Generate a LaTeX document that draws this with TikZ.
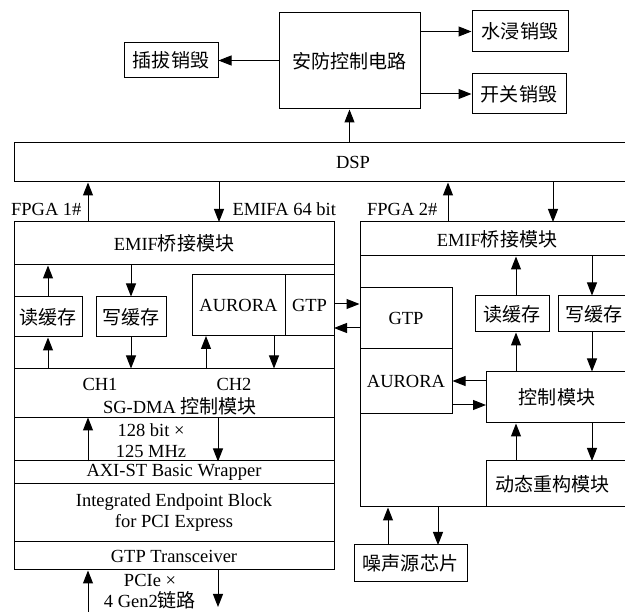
\documentclass[tikz,border=0pt]{standalone}
\usepackage{fontspec}
\setmainfont{Liberation Serif}
\newfontfamily\cjk[Scale=1.03]{Noto Sans CJK SC}
\usetikzlibrary{arrows.meta}

\begin{document}
\begin{tikzpicture}[x=1pt, y=-1pt, line width=1pt,
  font=\fontsize{18.5}{21}\selectfont,
  box/.style={draw, inner sep=2pt, align=center},
  txt/.style={inner sep=2pt, align=center},
  arr/.style={-{Triangle[length=13pt,width=10pt]}}]
\useasboundingbox (0,0) rectangle (625,612);
% security circuit
\node[box, minimum width=141pt, minimum height=96pt] (anfang) at (349.5,61) {\cjk 安防控制电路};
\node[box, minimum width=94pt, minimum height=35pt] (chaba) at (171,60.5) {\cjk 插拔销毁};
\node[box, minimum width=96pt, minimum height=41pt] (shuijin) at (520,31.5) {\cjk 水浸销毁};
\node[box, minimum width=94pt, minimum height=40pt] (kaiguan) at (519,94) {\cjk 开关销毁};
\node[box, minimum width=678pt, minimum height=39pt] (dsp) at (353,162.5) {DSP};
\draw[arr] (dsp.north -| anfang.south) -- (anfang.south);
\draw[arr] (chaba.east -| anfang.west) -- (chaba.east);
\draw[arr] (shuijin.west -| anfang.east) -- (shuijin.west);
\draw[arr] (kaiguan.west -| anfang.east) -- (kaiguan.west);

% FPGA 1
\node[box, minimum width=320pt, minimum height=348pt] (fpgaA) at (174,396) {};
\node[box, minimum width=320pt, minimum height=43pt] (emifA) at (174,243.5) {EMIF{\cjk 桥接模块}};
\node[box, minimum width=68pt, minimum height=40pt] (rdA) at (48,317) {\cjk 读缓存};
\node[box, minimum width=70pt, minimum height=40pt] (wrA) at (131,317) {\cjk 写缓存};
\node[box, minimum width=93pt, minimum height=61pt] (aurA) at (238.5,305.5) {AURORA};
\node[box, minimum width=49pt, minimum height=61pt] (gtpA) at (309.5,305.5) {GTP};
\node[box, minimum width=320pt, minimum height=49pt] (sgdma) at (174,393.5) {};
\node[txt] (ch1) at (100,384) {CH1};
\node[txt] (ch2) at (234,384) {CH2};
\node[txt] (sgtxt) at (180,406) {SG-DMA {\cjk 控制模块}};
\node[box, minimum width=320pt, minimum height=43pt] (wide128) at (174,439.5) {};
\node[txt] (w128) at (151,441) {128 bit ×\\125 MHz};
\node[box, minimum width=320pt, minimum height=23pt] (axi) at (174,472.5) {AXI-ST Basic Wrapper};
\node[box, minimum width=320pt, minimum height=58pt] (iep) at (174,513) {Integrated Endpoint Block\\for PCI Express};
\node[box, minimum width=320pt, minimum height=28pt] (gtpx) at (174,556) {GTP Transceiver};
\node[txt] (pcie) at (150,591.5) {PCIe ×\\4 Gen2{\cjk 链路}};
\node[txt, anchor=east] (lblA) at (84,209) {FPGA 1\#};
\node[txt, anchor=west] (lblEmifa) at (230,209) {EMIFA 64 bit};

\coordinate (upA) at (88,222);
\coordinate (dnA) at (219,222);
\coordinate (aurAup) at (206,336);
\coordinate (aurAdn) at (274,336);
\coordinate (pcieIn) at (88,612);
\coordinate (pcieOut) at (218,607);
\draw[arr] (upA) -- (upA |- dsp.south);
\draw[arr] (dnA |- dsp.south) -- (dnA);
\draw[arr] (rdA.north) -- (rdA.north |- emifA.south);
\draw[arr] (rdA.south |- sgdma.north) -- (rdA.south);
\draw[arr] (wrA.north |- emifA.south) -- (wrA.north);
\draw[arr] (wrA.south) -- (wrA.south |- sgdma.north);
\draw[arr] (aurAup |- sgdma.north) -- (aurAup);
\draw[arr] (aurAdn) -- (aurAdn |- sgdma.north);
\draw[arr] (upA |- wide128.south) -- (upA |- wide128.north);
\draw[arr] (pcieOut |- wide128.north) -- (pcieOut |- wide128.south);
\draw[arr] (pcieIn) -- (pcieIn |- gtpx.south);
\draw[arr] (pcieOut |- gtpx.south) -- (pcieOut);

% FPGA 2
\node[box, minimum width=274pt, minimum height=285pt] (fpgaB) at (497,364.5) {};
\node[box, minimum width=274pt, minimum height=34pt] (emifB) at (497,239) {EMIF{\cjk 桥接模块}};
\node[box, minimum width=92pt, minimum height=61pt] (gtpB) at (406,318.5) {GTP};
\node[box, minimum width=92pt, minimum height=65pt] (aurB) at (406,381.5) {AURORA};
\node[box, minimum width=74pt, minimum height=36pt] (rdB) at (512,314) {\cjk 读缓存};
\node[box, minimum width=72pt, minimum height=36pt] (wrB) at (594,314) {\cjk 写缓存};
\node[box, minimum width=142pt, minimum height=51pt] (ctrl) at (557,397.5) {\cjk 控制模块};
\node[box, minimum width=154pt, minimum height=46pt, text width=136pt, align=left] (dyn) at (563,484) {\cjk 动态重构模块};
\node[box, minimum width=113pt, minimum height=37pt] (noise) at (410.5,563.5) {\cjk 噪声源芯片};
\node[txt, anchor=east] (lblB) at (440,209) {FPGA 2\#};

\coordinate (upB) at (448,222);
\coordinate (dnB) at (553,222);
\coordinate (lnkAB) at (334,304);
\coordinate (lnkBA) at (334,328);
\coordinate (ctlOut) at (486,381);
\coordinate (ctlIn) at (486,405);
\coordinate (dynUp) at (516,461);
\coordinate (dynDn) at (592,461);
\coordinate (nzUp) at (388,545);
\coordinate (nzDn) at (438,545);
\draw[arr] (upB) -- (upB |- dsp.south);
\draw[arr] (dnB |- dsp.south) -- (dnB);
\draw[arr] (lnkAB) -- (lnkAB -| gtpB.west);
\draw[arr] (lnkBA -| gtpB.west) -- (lnkBA);
\draw[arr] (dynUp |- rdB.north) -- (dynUp |- emifB.south);
\draw[arr] (dynUp |- ctrl.north) -- (dynUp |- rdB.south);
\draw[arr] (dynDn |- emifB.south) -- (dynDn |- wrB.north);
\draw[arr] (dynDn |- wrB.south) -- (dynDn |- ctrl.north);
\draw[arr] (ctlOut) -- (ctlOut -| aurB.east);
\draw[arr] (ctlIn -| aurB.east) -- (ctlIn);
\draw[arr] (dynUp) -- (dynUp |- ctrl.south);
\draw[arr] (dynDn |- ctrl.south) -- (dynDn);
\draw[arr] (nzUp) -- (nzUp |- fpgaB.south);
\draw[arr] (nzDn |- fpgaB.south) -- (nzDn);
\end{tikzpicture}
\end{document}
